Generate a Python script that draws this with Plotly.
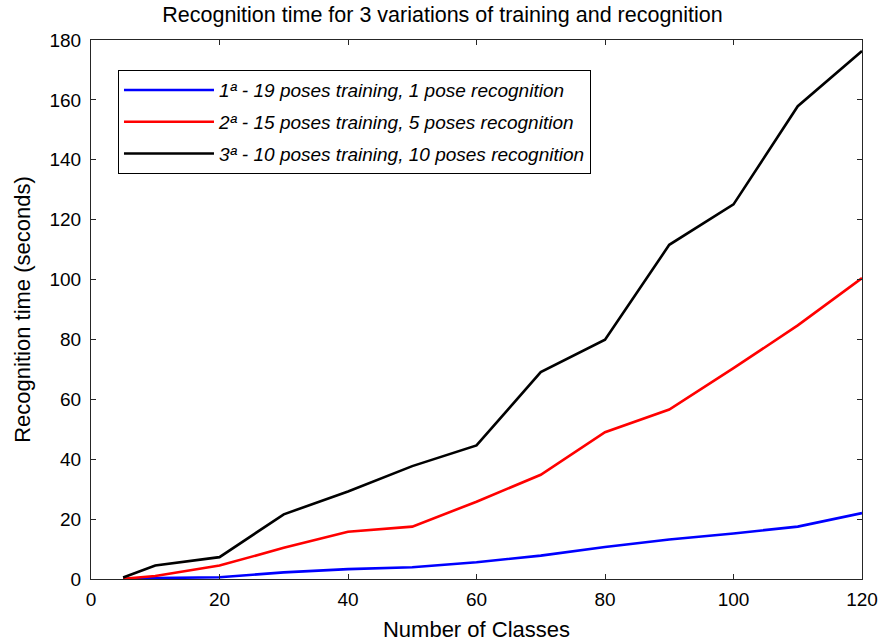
import plotly.graph_objects as go

classes = [5, 10, 20, 30, 40, 50, 60, 70, 80, 90, 100, 110, 120]
var1 = [0.0, 0.3, 0.6, 2.2, 3.3, 3.9, 5.6, 7.8, 10.7, 13.2, 15.2, 17.5, 22.0]
var2 = [0.1, 1.0, 4.5, 10.4, 15.8, 17.5, 25.8, 34.8, 49.0, 56.6, 70.4, 84.7, 100.5]
var3 = [0.5, 4.5, 7.3, 21.6, 29.2, 37.7, 44.6, 69.1, 79.9, 111.6, 125.1, 157.9, 176.3]
names = ["1ª - 19 poses training, 1 pose recognition",
         "2ª - 15 poses training, 5 poses recognition",
         "3ª - 10 poses training, 10 poses recognition"]
colors = ["#0000ff", "#ff0000", "#000000"]
x_ticks = [0, 20, 40, 60, 80, 100, 120]
y_ticks = [0, 20, 40, 60, 80, 100, 120, 140, 160, 180]

fig = go.Figure()
for i, (vals, name, col) in enumerate(zip([var1, var2, var3], names, colors)):
    fig.add_trace(go.Scatter(x=classes, y=vals, mode="lines", name=name,
                             legendgroup=f"g{i}",
                             line=dict(color=col, width=2.6)))

FONT = "Liberation Sans, Arial, Helvetica, sans-serif"
axis_common = dict(showgrid=False, zeroline=False, showline=True, linecolor="#262626",
                   linewidth=1, mirror="ticks", ticks="inside", ticklen=5,
                   tickcolor="#262626", tickfont=dict(size=19, color="#000"),
                   automargin=False)
fig.update_layout(
    width=885, height=644,
    margin=dict(l=91, r=23, t=40, b=65),
    paper_bgcolor="white", plot_bgcolor="white",
    font=dict(family=FONT, size=18, color="#000"),
    title=dict(text="Recognition time for 3 variations of training and recognition",
               x=0.5, xanchor="center", y=1 - 14/644, yanchor="middle",
               font=dict(size=21.5)),
    xaxis=dict(range=[0, 120], tickvals=x_ticks, ticklabelstandoff=3,
               title=dict(text="Number of Classes", standoff=12, font=dict(size=22)),
               **axis_common),
    yaxis=dict(range=[0, 180], tickvals=y_ticks, ticklabelstandoff=5,
               title=dict(text="Recognition time (seconds)", standoff=12, font=dict(size=22)),
               **axis_common),
    legend=dict(x=0.035, y=0.944, xanchor="left", yanchor="top",
                bgcolor="white", bordercolor="#000", borderwidth=1,
                font=dict(size=19, style="italic"),
                traceorder="grouped", tracegroupgap=4, itemwidth=90),
    showlegend=True,
)
fig.write_html("out.html", config={"displayModeBar": False},
               post_script="document.body.style.margin='0';")
